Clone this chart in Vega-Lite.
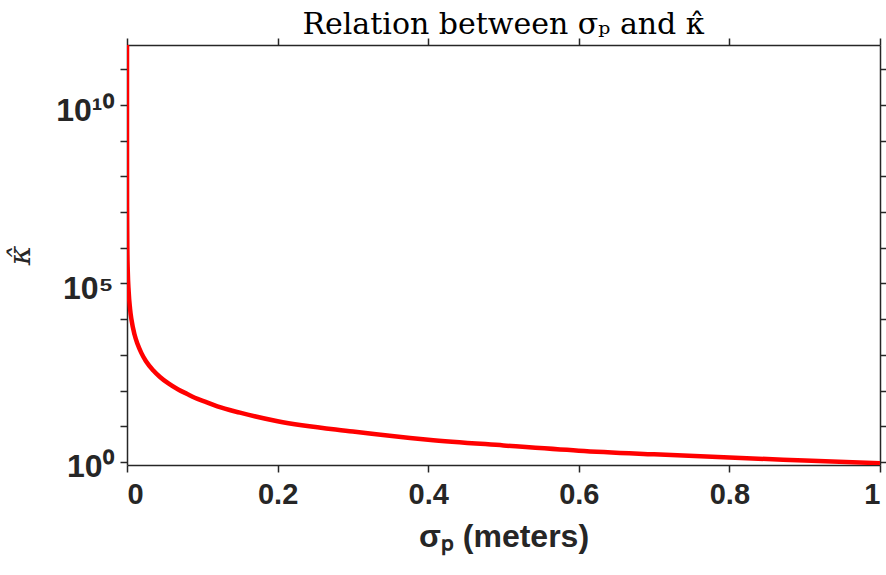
{
  "$schema": "https://vega.github.io/schema/vega-lite/v6.json",
  "width": 753,
  "height": 420,
  "autosize": "none",
  "padding": {"left": 127, "top": 45, "right": 6, "bottom": 110},
  "background": "white",
  "title": {"text": "Relation between σₚ and κ̂", "font": "DejaVu Serif", "fontSize": 30, "fontWeight": "normal", "color": "black", "offset": -3},
  "config": {"view": {"stroke": null}},
  "data": {"values": [
    {"sigma": 0.0000003, "kappa": 5e11},
    {"sigma": 0.000002, "kappa": 1.6e10},
    {"sigma": 0.00001, "kappa": 9e8},
    {"sigma": 0.0001, "kappa": 1.4e7},
    {"sigma": 0.0005, "kappa": 790000},
    {"sigma": 0.001, "kappa": 230000},
    {"sigma": 0.0022, "kappa": 60000},
    {"sigma": 0.004, "kappa": 20000},
    {"sigma": 0.006, "kappa": 9500},
    {"sigma": 0.01, "kappa": 3700},
    {"sigma": 0.014, "kappa": 2000},
    {"sigma": 0.019, "kappa": 1135},
    {"sigma": 0.025, "kappa": 675},
    {"sigma": 0.035, "kappa": 365},
    {"sigma": 0.0438, "kappa": 240},
    {"sigma": 0.055, "kappa": 158},
    {"sigma": 0.068, "kappa": 107},
    {"sigma": 0.08, "kappa": 80},
    {"sigma": 0.09, "kappa": 63},
    {"sigma": 0.1036, "kappa": 49},
    {"sigma": 0.12, "kappa": 36},
    {"sigma": 0.15, "kappa": 24},
    {"sigma": 0.2, "kappa": 13.8},
    {"sigma": 0.3, "kappa": 7.1},
    {"sigma": 0.4, "kappa": 4.2},
    {"sigma": 0.5, "kappa": 2.9},
    {"sigma": 0.6, "kappa": 2.07},
    {"sigma": 0.7, "kappa": 1.63},
    {"sigma": 0.8, "kappa": 1.32},
    {"sigma": 0.9, "kappa": 1.1},
    {"sigma": 1.0, "kappa": 0.92}
  ]},
  "layer": [
    {
      "mark": {"type": "line", "color": "#FF0000", "strokeWidth": 4.5, "clip": true, "interpolate": "monotone"},
      "encoding": {
        "x": {"field": "sigma", "type": "quantitative",
          "scale": {"domain": [0, 1], "nice": false, "zero": false},
          "axis": {"orient": "bottom", "values": [0, 0.2, 0.4, 0.6, 0.8, 1], "format": "~g", "grid": false,
            "domainColor": "#262626", "domainWidth": 1.5, "tickColor": "#262626", "tickWidth": 1.5, "tickSize": 7,
            "encode": {"ticks": {"update": {"y2": {"value": -7}}}},
            "labelFont": "Liberation Sans", "labelFontWeight": "bold", "labelFontSize": 29, "labelColor": "#262626", "labelPadding": 8,
            "title": "σₚ (meters)", "titleFont": "Liberation Sans", "titleFontWeight": "bold", "titleFontSize": 32, "titleColor": "#262626", "titlePadding": 12}},
        "y": {"field": "kappa", "type": "quantitative",
          "scale": {"type": "log", "domain": [0.82, 4.8e11], "nice": false},
          "axis": {"orient": "left", "values": [1, 10, 100, 1000, 10000, 100000, 1000000, 10000000, 100000000, 1000000000, 10000000000, 100000000000],
            "labelExpr": "datum.value == 1 ? '10⁰' : datum.value == 100000 ? '10⁵' : datum.value == 10000000000 ? '10¹⁰' : ''",
            "grid": false, "domainColor": "#262626", "domainWidth": 1.5, "tickColor": "#262626", "tickWidth": 1.5, "tickSize": 7,
            "encode": {"ticks": {"update": {"x2": {"signal": "(datum.value == 1 || datum.value == 100000 || datum.value == 10000000000) ? 7 : 4"}}}},
            "labelFont": "Liberation Sans", "labelFontWeight": "bold", "labelFontSize": 32, "labelColor": "#262626", "labelPadding": 7, "labelOffset": 5, "labelOverlap": false,
            "title": "κ̂", "titleFont": "DejaVu Serif", "titleFontStyle": "italic", "titleFontWeight": "normal", "titleFontSize": 30, "titleColor": "#262626", "titlePadding": 20}}
      }
    },
    {
      "mark": {"type": "line", "opacity": 0},
      "encoding": {
        "x": {"field": "sigma", "type": "quantitative",
          "axis": {"orient": "top", "values": [0, 0.2, 0.4, 0.6, 0.8, 1], "labels": false, "title": null, "grid": false,
            "domainColor": "#262626", "domainWidth": 1.5, "tickColor": "#262626", "tickWidth": 1.5, "tickSize": 7,
            "encode": {"ticks": {"update": {"y2": {"value": 7}}}}}},
        "y": {"field": "kappa", "type": "quantitative",
          "axis": {"orient": "right", "values": [1, 10, 100, 1000, 10000, 100000, 1000000, 10000000, 100000000, 1000000000, 10000000000, 100000000000],
            "labels": false, "title": null, "grid": false, "domainColor": "#262626", "domainWidth": 1.5, "tickColor": "#262626", "tickWidth": 1.5, "tickSize": 7,
            "encode": {"ticks": {"update": {"x2": {"signal": "(datum.value == 1 || datum.value == 100000 || datum.value == 10000000000) ? -7 : -4"}}}}}}
      }
    }
  ],
  "resolve": {"axis": {"x": "independent", "y": "independent"}}
}
